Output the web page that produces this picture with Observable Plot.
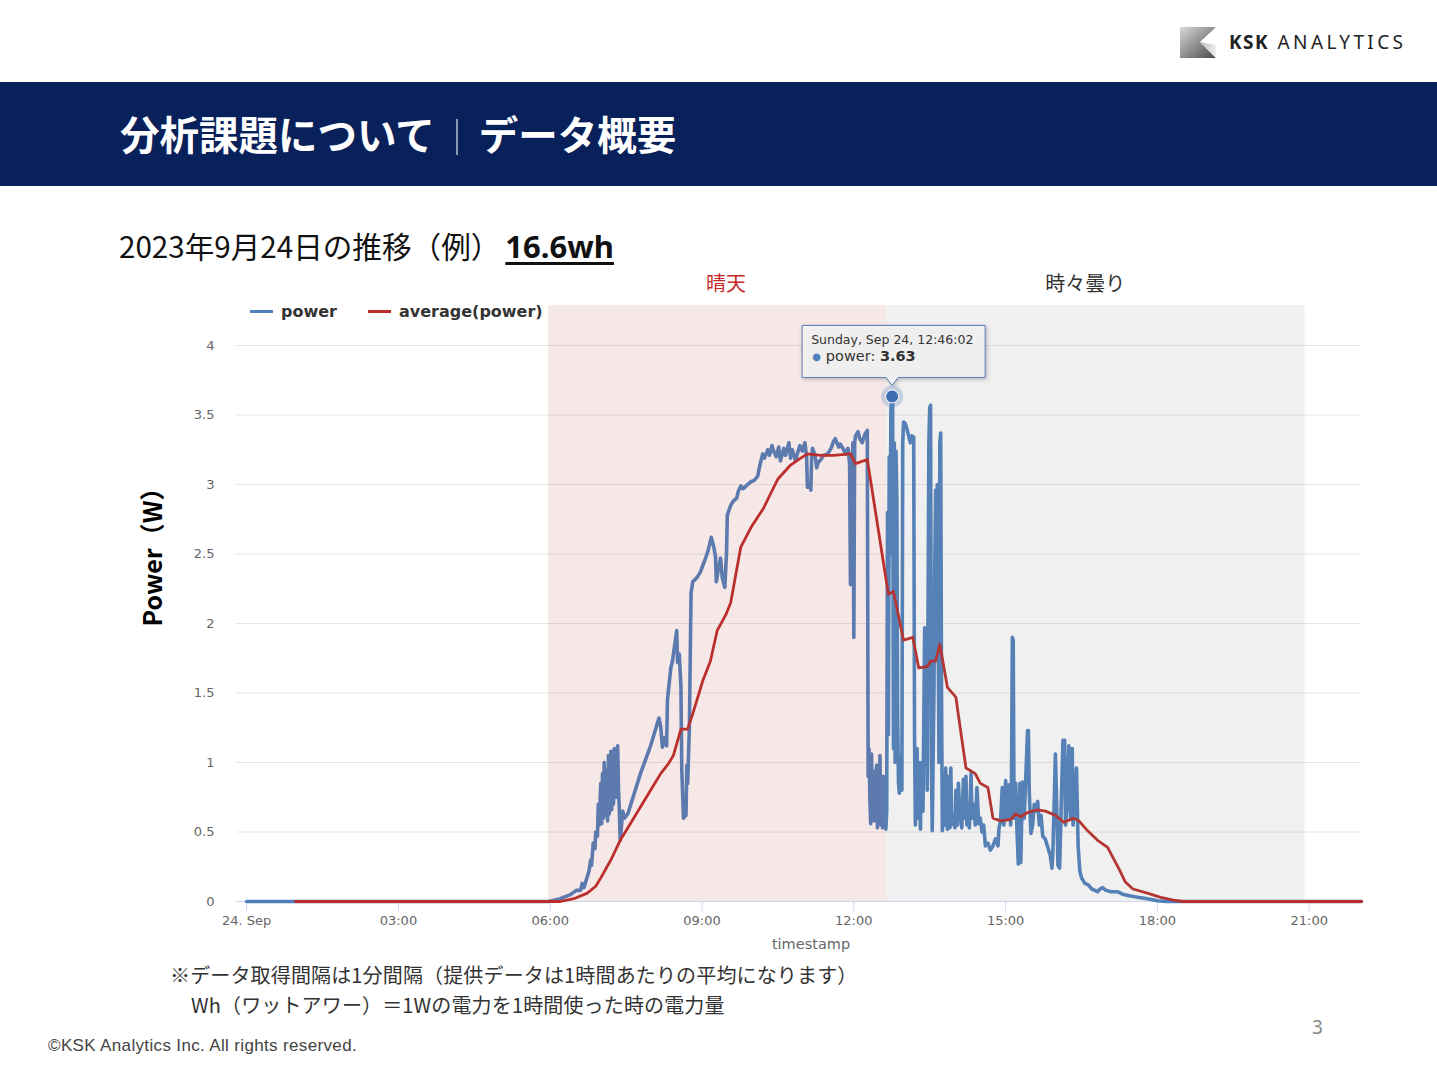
<!DOCTYPE html>
<html><head><meta charset="utf-8">
<script src="https://cdn.jsdelivr.net/npm/d3@7"></script>
<script src="https://cdn.jsdelivr.net/npm/@observablehq/plot@0.6"></script>
<style>
body{margin:0;background:#fff;width:1437px;height:1065px;position:relative;overflow:hidden;font-family:"Noto Sans CJK JP","Noto Sans",sans-serif;}
.abs{position:absolute;white-space:nowrap;}
#chart{position:absolute;left:120px;top:260px;}
</style></head><body>
<svg class="abs" style="left:1178px;top:25px" width="40" height="36">
  <defs><linearGradient id="lg" x1="0" y1="0" x2="1" y2="1"><stop offset="0" stop-color="#d8d8d8"/><stop offset="1" stop-color="#4a4a4a"/></linearGradient>
  <linearGradient id="lg2" x1="0" y1="0" x2="1" y2="0"><stop offset="0" stop-color="#bdbdbd"/><stop offset="1" stop-color="#efefef"/></linearGradient></defs>
  <polygon points="2,2 38,2 22,17 38,33 2,33" fill="url(#lg)"/>
  <polygon points="22,17 38,33 38,20" fill="url(#lg2)"/>
</svg>
<div class="abs" style="left:1229px;top:29px;font-family:'Noto Sans';font-size:19px;line-height:26px;color:#222;letter-spacing:3.4px"><b style="letter-spacing:1.5px">KSK</b> ANALYTICS</div>
<div class="abs" style="left:0;top:82px;width:1437px;height:104px;background:#08215b"></div>
<div class="abs" style="left:120px;top:112px;font-size:39.5px;line-height:42px;font-weight:700;color:#fff">分析課題について<span style="display:inline-block;width:2px;height:36px;background:#8b97b8;margin:0 21px 0 21px;vertical-align:-5px"></span>データ概要</div>
<div class="abs" style="left:119px;top:228px;font-size:29.6px;line-height:36px;color:#111">2023年9月24日の推移（例）<b style="margin-left:5px;font-family:'Noto Sans';font-size:31px;text-decoration:underline;text-decoration-thickness:2.5px;text-underline-offset:4px">16.6wh</b></div>
<div id="regionLabels"></div>
<div id="legend"></div>
<div id="chart"></div>
<div class="abs" style="left:151px;top:551px;transform:translate(-50%,-50%) rotate(-90deg);font-size:25px;font-weight:700;color:#000">Power（W）</div>
<div class="abs" style="left:811px;top:944px;transform:translate(-50%,-50%);font-family:'DejaVu Sans';font-size:14.5px;color:#666">timestamp</div>
<div class="abs" style="left:170px;top:962px;font-size:20px;line-height:26px;color:#333;letter-spacing:0.15px">※データ取得間隔は1分間隔（提供データは1時間あたりの平均になります）</div>
<div class="abs" style="left:191px;top:992px;font-size:20px;line-height:26px;color:#333;letter-spacing:0.15px">Wh（ワットアワー）＝1Wの電力を1時間使った時の電力量</div>
<div class="abs" style="left:48px;top:1035px;font-family:'Liberation Sans';font-size:17px;line-height:22px;color:#444;letter-spacing:0.35px">©KSK Analytics Inc. All rights reserved.</div>
<div class="abs" style="left:1312px;top:1014px;font-family:'Noto Sans';font-size:19px;line-height:26px;color:#888">3</div>
<script>
// ---- data (minute of day, W) ----
const powerSeries = [[0,0],[358,0],[372,0.02],[384,0.05],[391,0.08],[396,0.08],[398,0.13],[400,0.10],[403,0.16],[406,0.22],[408,0.30],[409,0.26],[411,0.42],[413,0.38],[414,0.50],[416,0.47],[417,0.70],[418,0.55],[420,0.85],[421,0.56],[422,0.92],[423,0.60],[424,1.00],[425,0.62],[427,0.95],[428,0.58],[429,1.05],[430,0.63],[432,1.08],[433,0.66],[434,1.02],[435,0.70],[436,1.10],[438,0.75],[440,1.12],[441,0.80],[442,0.65],[443,0.44],[446,0.65],[448,0.60],[452,0.63],[467,0.92],[479,1.12],[487,1.28],[489,1.32],[491,1.26],[493,1.11],[496,1.18],[498,1.12],[499,1.45],[503,1.68],[505,1.73],[507,1.82],[510,1.95],[511,1.72],[513,1.78],[515,1.55],[516,0.95],[518,0.60],[521,0.62],[522,0.98],[523,0.85],[525,1.25],[527,2.22],[529,2.30],[534,2.33],[538,2.37],[543,2.45],[547,2.52],[551,2.62],[554,2.55],[556,2.48],[557,2.30],[559,2.38],[562,2.47],[564,2.33],[567,2.26],[569,2.50],[570,2.78],[574,2.85],[577,2.88],[581,2.90],[583,2.95],[586,2.99],[589,2.97],[594,3.00],[598,3.02],[602,3.03],[606,3.06],[609,3.15],[612,3.22],[614,3.19],[618,3.25],[620,3.21],[623,3.28],[625,3.24],[628,3.20],[631,3.27],[633,3.17],[637,3.26],[639,3.21],[643,3.30],[645,3.19],[647,3.25],[651,3.17],[653,3.22],[656,3.28],[659,3.24],[662,3.30],[664,3.20],[665,2.98],[668,3.00],[669,2.96],[670,3.20],[671,3.26],[674,3.21],[676,3.12],[678,3.16],[681,3.18],[684,3.21],[689,3.22],[693,3.26],[696,3.31],[698,3.33],[702,3.27],[704,3.29],[708,3.25],[710,3.22],[713,3.26],[715,3.15],[716,2.28],[717,3.10],[719,3.30],[720,1.90],[721,3.30],[722,3.35],[725,3.38],[727,3.33],[730,3.30],[733,3.36],[736,3.39],[737,0.90],[738,1.10],[739,0.75],[740,0.56],[741,1.06],[742,0.68],[743,0.94],[744,0.58],[745,0.92],[746,0.70],[747,0.98],[748,0.53],[749,0.88],[750,0.60],[751,1.05],[752,0.55],[753,0.82],[754,0.53],[755,0.90],[756,0.60],[757,0.75],[758,0.52],[759,0.65],[760,2.80],[761,1.20],[762,3.20],[763,2.50],[764,3.55],[766,3.63],[767,1.10],[768,3.30],[769,1.00],[770,3.24],[771,2.90],[772,1.30],[773,0.85],[774,0.78],[776,1.05],[777,0.80],[778,3.30],[779,3.45],[781,3.44],[783,3.40],[785,3.35],[787,3.30],[789,3.35],[791,3.34],[792,1.20],[793,0.55],[795,1.10],[796,0.60],[797,1.00],[799,0.52],[800,1.00],[802,0.65],[804,1.97],[805,1.20],[806,1.90],[807,0.80],[809,3.30],[810,3.55],[811,3.57],[812,1.00],[813,0.51],[815,1.50],[816,2.40],[817,2.96],[818,1.80],[819,3.00],[821,1.00],[822,3.30],[823,3.37],[824,1.50],[825,0.51],[826,0.70],[828,0.55],[829,0.96],[830,0.60],[831,0.52],[833,0.90],[834,0.53],[835,0.96],[836,0.55],[838,0.62],[840,0.53],[841,0.80],[843,0.55],[844,0.85],[846,0.58],[847,0.65],[848,0.53],[850,0.88],[851,0.60],[853,0.90],[854,0.55],[855,0.70],[857,0.53],[859,0.92],[860,0.60],[862,0.70],[864,0.55],[866,0.82],[868,0.56],[870,0.60],[872,0.50],[874,0.55],[876,0.40],[879,0.42],[882,0.37],[885,0.40],[888,0.45],[891,0.40],[892,0.52],[894,0.58],[896,0.82],[898,0.55],[900,0.87],[902,0.60],[904,0.84],[906,0.55],[907,0.90],[908,1.90],[909,1.88],[910,0.60],[912,0.85],[913,0.60],[915,0.27],[917,0.85],[918,0.28],[920,0.86],[922,0.60],[924,0.90],[926,1.23],[927,1.23],[928,0.80],[930,0.49],[932,0.55],[934,0.70],[936,0.65],[938,0.72],[940,0.55],[942,0.62],[944,0.47],[947,0.45],[950,0.39],[953,0.33],[955,0.24],[956,0.35],[958,0.80],[959,1.06],[961,0.60],[962,0.26],[964,0.24],[966,0.70],[968,1.16],[970,1.16],[971,0.55],[973,0.70],[975,1.12],[977,0.60],[979,1.10],[980,0.55],[982,0.70],[984,0.96],[986,0.40],[988,0.22],[990,0.17],[994,0.13],[998,0.12],[1002,0.09],[1006,0.08],[1009,0.07],[1012,0.09],[1015,0.10],[1019,0.08],[1025,0.07],[1033,0.07],[1040,0.05],[1048,0.04],[1057,0.03],[1068,0.02],[1080,0.005],[1090,0],[1322,0]];
const averageSeries = [[58,0],[372,0],[388,0.02],[404,0.06],[414,0.11],[420,0.17],[432,0.30],[443,0.44],[455,0.56],[467,0.68],[479,0.80],[491,0.92],[500,0.99],[506,1.05],[515,1.24],[523,1.24],[530,1.37],[541,1.59],[550,1.73],[558,1.95],[568,2.06],[574,2.15],[580,2.35],[586,2.55],[598,2.69],[613,2.83],[621,2.93],[630,3.04],[645,3.14],[657,3.19],[665,3.22],[681,3.21],[696,3.21],[716,3.22],[722,3.15],[736,3.18],[761,2.21],[767,2.23],[779,1.88],[790,1.90],[797,1.68],[807,1.69],[811,1.73],[817,1.73],[822,1.85],[829,1.61],[831,1.54],[841,1.47],[853,0.96],[864,0.92],[870,0.85],[879,0.82],[885,0.60],[894,0.58],[906,0.59],[912,0.63],[918,0.61],[926,0.64],[938,0.66],[947,0.65],[959,0.62],[969,0.57],[981,0.60],[987,0.58],[997,0.51],[1009,0.44],[1021,0.39],[1027,0.32],[1034,0.24],[1042,0.14],[1051,0.09],[1068,0.06],[1084,0.03],[1099,0.01],[1111,0],[1322,0]];
const seriesNames = ["power", "average(power)"];
const seriesColors = ["#4f81bd", "#bb2c28"];
const regionNames = ["晴天", "時々曇り"];
const regionStart = [358, 759];
const regionEnd = [759, 1255];
const regionFill = ["#c0504d", "#808080"];
const regionOpacity = [0.13, 0.12];
const regionLabelColor = ["#c62828", "#333"];
const regionLabelMinute = [569, 995];
const xTickMinutes = [0, 180, 360, 540, 720, 900, 1080, 1260];
const xTickLabels = ["24. Sep", "03:00", "06:00", "09:00", "12:00", "15:00", "18:00", "21:00"];
const yTicks = [0, 0.5, 1, 1.5, 2, 2.5, 3, 3.5, 4];
const xDomainMinutes = [-12, 1322];
const yMax = 4.288;
const tipTime = new Date(Date.UTC(2023, 8, 24, 12, 46, 2));
const tipValue = 3.63;

// ---- build ----
const t = m => new Date(Date.UTC(2023, 8, 24, 0, 0) + m * 60000);
const power = powerSeries.map(([m, v]) => ({t: t(m), v}));
const avg = averageSeries.map(([m, v]) => ({t: t(m), v}));
const regions = regionNames.map((name, i) => ({name, x1: t(regionStart[i]), x2: t(regionEnd[i]), y1: 0, y2: yMax, fill: regionFill[i], op: regionOpacity[i]}));
const xTicks = xTickMinutes.map(t);
const labelOf = new Map(xTicks.map((d, i) => [+d, xTickLabels[i]]));

const W = 1300, H = 700;
const chart = Plot.plot({
  width: W, height: H,
  marginLeft: 116, marginRight: 59, marginTop: 45, marginBottom: 59,
  x: {type: "utc", domain: xDomainMinutes.map(t)},
  y: {domain: [0, yMax]},
  style: {fontFamily: "DejaVu Sans, sans-serif", fontSize: "13px", color: "#666", background: "transparent", overflow: "visible"},
  marks: [
    Plot.gridY(yTicks.filter(d => d > 0), {stroke: "#e6e6e6", strokeOpacity: 1, strokeWidth: 1}),
    Plot.ruleY([0], {stroke: "#ccd6eb", strokeWidth: 1}),
    Plot.axisX(xTicks, {tickSize: 10, tickPadding: 4, stroke: "#ccd6eb", strokeOpacity: 1, fill: "#666", tickFormat: d => labelOf.get(+d), label: null}),
    Plot.axisY(yTicks, {tickSize: 0, tickPadding: 22, fill: "#666", label: null, tickFormat: d => String(d)}),
    Plot.lineY(power, {x: "t", y: "v", stroke: seriesColors[0], strokeWidth: 3.6, strokeLinejoin: "round"}),
    Plot.lineY(avg, {x: "t", y: "v", stroke: seriesColors[1], strokeWidth: 2.8, strokeLinejoin: "round"}),
    Plot.rect(regions, {x1: "x1", x2: "x2", y1: "y1", y2: "y2", fill: d => d.fill, fillOpacity: d => d.op})
  ]
});
document.getElementById("chart").appendChild(chart);

const xs = chart.scale("x"), ys = chart.scale("y");
const chartLeft = 120;

// region labels above the plot
const rl = document.getElementById("regionLabels");
regionNames.forEach((n, i) => {
  const d = document.createElement("div");
  d.className = "abs";
  d.textContent = n;
  d.style.cssText = `left:${chartLeft + xs.apply(t(regionLabelMinute[i]))}px;top:282px;transform:translate(-50%,-50%);font-size:20px;color:${regionLabelColor[i]}`;
  rl.appendChild(d);
});

// legend
const lg = document.getElementById("legend");
const legendX = [250, 368];
seriesNames.forEach((n, i) => {
  const d = document.createElement("div");
  d.className = "abs";
  d.style.cssText = `left:${legendX[i]}px;top:299px;height:24px;display:flex;align-items:center;font-family:'DejaVu Sans';font-weight:700;font-size:16px;color:#333`;
  d.innerHTML = `<span style="display:inline-block;width:23px;height:3px;background:${seriesColors[i]};margin-right:8px"></span>${n}`;
  lg.appendChild(d);
});

// tooltip + hovered point, positioned with the plot's scales
const svg = d3.select(chart);
const px = xs.apply(tipTime), py = ys.apply(tipValue);
const g = svg.append("g").attr("text-anchor", "start");
g.append("circle").attr("cx", px).attr("cy", py).attr("r", 11).attr("fill", seriesColors[0]).attr("fill-opacity", 0.28);
g.append("circle").attr("cx", px).attr("cy", py).attr("r", 6.5).attr("fill", "#3f6fb0").attr("stroke", "#fff").attr("stroke-width", 1);
const L = px - 90, R = px + 93, T = py - 71, B = py - 19;
const path = `M${L},${T}H${R}V${B}H${px + 6}L${px},${py - 11}L${px - 6},${B}H${L}Z`;
g.append("path").attr("d", path).attr("fill", "rgba(247,247,247,0.88)").attr("stroke", "#5b7fb5").attr("stroke-width", 1)
  .style("filter", "drop-shadow(1px 1px 2px rgba(0,0,0,0.3))");
g.append("text").attr("x", L + 9).attr("y", T + 15).attr("dominant-baseline", "middle").attr("text-anchor", "start")
  .attr("font-family", "DejaVu Sans").attr("font-size", 12.5).attr("fill", "#333")
  .text(d3.utcFormat("%A, %b %d, %H:%M:%S")(tipTime));
const t2 = g.append("text").attr("x", L + 10).attr("y", T + 32).attr("dominant-baseline", "middle").attr("text-anchor", "start").attr("font-family", "DejaVu Sans").attr("fill", "#333");
t2.append("tspan").attr("font-size", 10).attr("fill", seriesColors[0]).text("●");
t2.append("tspan").attr("dx", 5).attr("font-size", 14.5).text(seriesNames[0] + ": ");
t2.append("tspan").attr("font-size", 14.5).attr("font-weight", 700).text(tipValue.toFixed(2));
</script>
</body></html>
